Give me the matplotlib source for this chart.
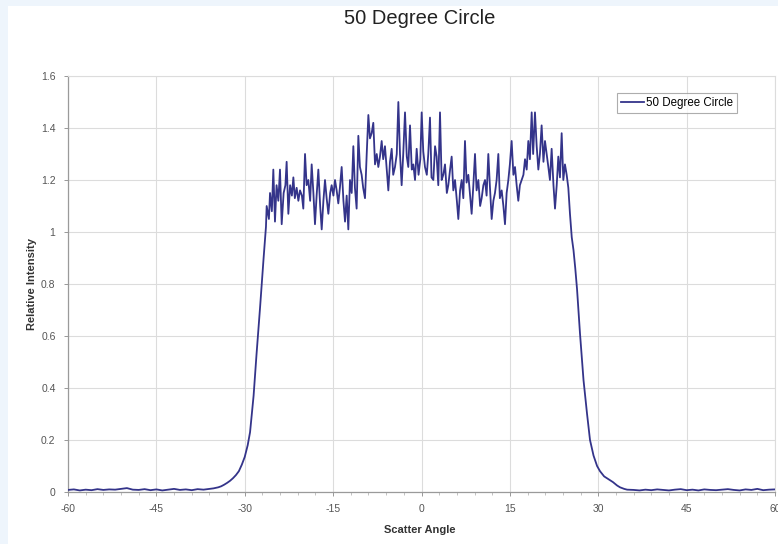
import matplotlib
matplotlib.use("Agg")
import matplotlib.pyplot as plt
from matplotlib.patches import Rectangle
from matplotlib.ticker import FuncFormatter, MultipleLocator

plt.rcParams['font.family'] = ['Liberation Sans', 'DejaVu Sans']
plt.rcParams['axes.unicode_minus'] = False

title = "50 Degree Circle"
series_name = "50 Degree Circle"
x_label = "Scatter Angle"
y_label = "Relative Intensity"
x_ticks = [-60, -45, -30, -15, 0, 15, 30, 45, 60]
y_ticks = [0, 0.2, 0.4, 0.6, 0.8, 1.0, 1.2, 1.4, 1.6]

# left baseline
base_left_x = list(range(-60, -35))
base_left_y = [0.008, 0.010, 0.006, 0.009, 0.007, 0.011, 0.008, 0.010, 0.009, 0.012,
               0.015, 0.009, 0.008, 0.011, 0.007, 0.010, 0.006, 0.009, 0.012, 0.008,
               0.010, 0.007, 0.011, 0.009, 0.012]

# rising edge
rise_x = [-35.3, -34.5, -34.0, -33.5, -33.0, -32.5, -32.0, -31.5, -31.0, -30.5, -30.0,
          -29.5, -29.1, -28.8, -28.5, -28.0, -27.4, -26.8, -26.4]
rise_y = [0.014, 0.018, 0.022, 0.028, 0.035, 0.043, 0.053, 0.065, 0.080, 0.105, 0.135,
          0.18, 0.23, 0.30, 0.37, 0.53, 0.71, 0.90, 1.02]

# noisy plateau
top_x = [-26.28, -25.9, -25.71, -25.4, -25.15, -24.87, -24.6, -24.3, -24.02, -23.73,
         -23.4, -23.1, -22.89, -22.6, -22.3, -22.0, -21.75, -21.5, -21.19, -20.9,
         -20.62, -20.3, -20.06, -19.77, -19.5, -19.21, -18.9, -18.64, -18.35, -18.08,
         -17.8, -17.51, -17.2, -16.94, -16.65, -16.38, -16.1, -15.81, -15.5, -15.25,
         -14.95, -14.68, -14.4, -14.12, -13.85, -13.55, -13.25, -12.98, -12.7, -12.42,
         -12.14, -11.85, -11.57, -11.3, -11.01, -10.72, -10.45, -10.16, -9.9, -9.59,
         -9.3, -9.02, -8.75, -8.46, -8.18, -7.89, -7.6, -7.33, -7.05, -6.76,
         -6.5, -6.2, -5.9, -5.63, -5.35, -5.06, -4.8, -4.5, -4.2, -3.93,
         -3.65, -3.37, -3.1, -2.8, -2.5, -2.24, -1.95, -1.65, -1.39, -1.1,
         -0.82, -0.5, -0.2, 0.03, 0.3, 0.59, 0.9, 1.15, 1.44, 1.7,
         2.01, 2.3, 2.57, 2.85, 3.14, 3.42, 3.7, 3.99, 4.3, 4.55,
         4.85, 5.12, 5.4, 5.69, 6.0, 6.25, 6.55, 6.82, 7.1, 7.38,
         7.65, 7.95, 8.25, 8.51, 8.8, 9.08, 9.35, 9.65, 9.95, 10.21,
         10.5, 10.78, 11.05, 11.34, 11.6, 11.91, 12.2, 12.47, 12.75, 13.04,
         13.3, 13.61, 13.9, 14.17, 14.45, 14.74, 15.0, 15.3, 15.6, 15.87,
         16.15, 16.43, 16.7, 17.0, 17.3, 17.57, 17.85, 18.13, 18.4, 18.7,
         18.95, 19.26, 19.55, 19.83, 20.1, 20.39, 20.7, 20.96, 21.25, 21.53,
         21.8, 22.09, 22.4, 22.66, 22.95, 23.22, 23.5, 23.79, 24.07, 24.35,
         24.64, 24.92]
top_y = [1.10, 1.05, 1.15, 1.08, 1.24, 1.04, 1.18, 1.12, 1.24, 1.03,
         1.15, 1.18, 1.27, 1.07, 1.18, 1.14, 1.21, 1.13, 1.17, 1.12,
         1.16, 1.14, 1.09, 1.30, 1.18, 1.20, 1.12, 1.26, 1.15, 1.03,
         1.14, 1.24, 1.10, 1.01, 1.12, 1.20, 1.13, 1.07, 1.15, 1.18,
         1.14, 1.20, 1.16, 1.11, 1.17, 1.25, 1.12, 1.04, 1.14, 1.01,
         1.20, 1.15, 1.33, 1.17, 1.09, 1.37, 1.25, 1.22, 1.17, 1.13,
         1.30, 1.45, 1.36, 1.38, 1.42, 1.26, 1.30, 1.25, 1.29, 1.35,
         1.28, 1.33, 1.24, 1.16, 1.27, 1.32, 1.22, 1.25, 1.30, 1.50,
         1.30, 1.18, 1.30, 1.46, 1.29, 1.25, 1.41, 1.24, 1.26, 1.20,
         1.32, 1.22, 1.28, 1.46, 1.31, 1.25, 1.22, 1.30, 1.44, 1.21,
         1.20, 1.33, 1.29, 1.18, 1.46, 1.20, 1.22, 1.26, 1.15, 1.18,
         1.24, 1.29, 1.16, 1.20, 1.12, 1.05, 1.16, 1.20, 1.13, 1.35,
         1.19, 1.22, 1.14, 1.07, 1.18, 1.30, 1.16, 1.20, 1.10, 1.13,
         1.18, 1.20, 1.14, 1.30, 1.18, 1.05, 1.12, 1.15, 1.20, 1.30,
         1.13, 1.16, 1.10, 1.03, 1.15, 1.20, 1.26, 1.35, 1.22, 1.25,
         1.18, 1.12, 1.18, 1.20, 1.22, 1.28, 1.24, 1.35, 1.28, 1.46,
         1.30, 1.46, 1.33, 1.24, 1.30, 1.41, 1.27, 1.35, 1.30, 1.25,
         1.20, 1.32, 1.18, 1.09, 1.18, 1.29, 1.21, 1.38, 1.20, 1.26,
         1.22, 1.17]

# falling edge
fall_x = [25.2, 25.5, 25.8, 26.1, 26.4, 26.9, 27.5, 28.1, 28.6, 29.2, 29.8, 30.3,
          31.0, 32.0, 32.5, 33.2, 33.7, 34.4, 34.9]
fall_y = [1.07, 0.98, 0.93, 0.86, 0.78, 0.61, 0.43, 0.30, 0.20, 0.14, 0.10, 0.08,
          0.06, 0.045, 0.038, 0.025, 0.018, 0.012, 0.009]

# right baseline
base_right_x = list(range(36, 61))
base_right_y = [0.008, 0.006, 0.009, 0.007, 0.010, 0.008, 0.006, 0.009, 0.011, 0.007,
                0.009, 0.006, 0.010, 0.008, 0.007, 0.009, 0.011, 0.008, 0.006, 0.010,
                0.008, 0.012, 0.007, 0.009, 0.010]

x = base_left_x + rise_x + top_x + fall_x + base_right_x
y = base_left_y + rise_y + top_y + fall_y + base_right_y

W, H = 778, 544
fig = plt.figure(figsize=(W / 100, H / 100), dpi=100)
fig.patch.set_facecolor('#eef5fc')
fig.patches.append(Rectangle((8 / W, 0), 1, 1 - 6 / H, transform=fig.transFigure,
                             facecolor='white', edgecolor='none', zorder=-10))

left, right, bottom, top = 68, 775, 492, 76
ax = fig.add_axes([left / W, 1 - bottom / H, (right - left) / W, (bottom - top) / H])
ax.set_zorder(1)
ax.set_facecolor('white')

ax.plot(x, y, color='#34348a', linewidth=1.3, label=series_name, zorder=3)

ax.set_xlim(-60, 60)
ax.set_ylim(0, 1.6)
ax.set_xticks(x_ticks)
ax.set_yticks(y_ticks)
ax.yaxis.set_major_formatter(FuncFormatter(lambda v, p: f"{v:g}"))
ax.xaxis.set_minor_locator(MultipleLocator(3))
ax.grid(True, which='major', color='#dcdcdc', linewidth=0.8, zorder=0)
ax.tick_params(axis='both', which='major', labelsize=7.5, colors='#888888',
               labelcolor='#555555', length=3, width=0.6, pad=6)
ax.tick_params(axis='x', which='minor', length=2, width=0.5, colors='#aaaaaa')
for side in ['left', 'bottom']:
    ax.spines[side].set_color('#9a9a9a')
    ax.spines[side].set_linewidth(0.9)
for side in ['top', 'right']:
    ax.spines[side].set_color('#dcdcdc')
    ax.spines[side].set_linewidth(0.8)

fig.text(420 / W, 1 - 19 / H, title, ha='center', va='center', fontsize=14.5, color='#222222')
fig.text(420 / W, 1 - 530 / H, x_label, ha='center', va='center', fontsize=8,
         fontweight='bold', color='#333333')
fig.text(32 / W, 1 - 284 / H, y_label, ha='center', va='center', fontsize=8,
         fontweight='bold', color='#333333', rotation=90)

leg = ax.legend(loc='upper left', bbox_to_anchor=((617 - left) / (right - left), 1 - (93 - top) / (bottom - top)),
                fontsize=8.3, frameon=True, fancybox=False, handlelength=2.0,
                handletextpad=0.2, borderpad=0.35, borderaxespad=0)
leg.get_frame().set_edgecolor('#999999')
leg.get_frame().set_linewidth(0.8)

fig.savefig('out.png', dpi=100, facecolor=fig.get_facecolor())
